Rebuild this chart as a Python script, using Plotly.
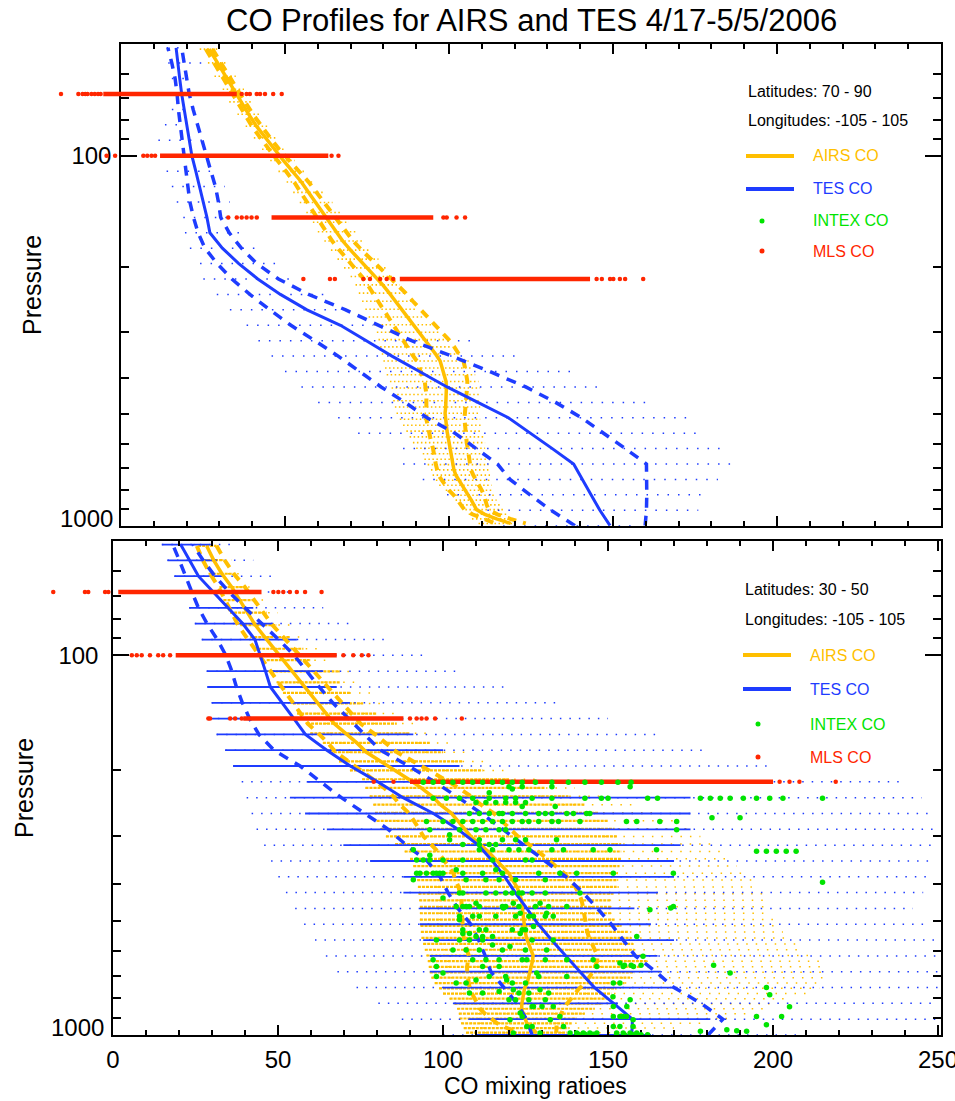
import math
import plotly.graph_objects as go

# ---------------- data ----------------
# AIRS support pressure levels inside 50-1000 hPa
airs_p = [51.53, 56.13, 60.99, 66.13, 71.54, 77.24, 83.23, 89.52, 96.11, 103.02,
          110.24, 117.78, 125.65, 133.85, 142.38, 151.27, 160.50, 170.08, 180.02, 190.32,
          200.99, 212.03, 223.44, 235.23, 247.41, 259.97, 272.92, 286.26, 300.00, 314.14,
          328.68, 343.62, 358.97, 374.72, 390.89, 407.47, 424.47, 441.88, 459.71, 477.96,
          496.63, 515.72, 535.23, 555.17, 575.52, 596.31, 617.51, 639.14, 661.19, 683.67,
          706.57, 729.89, 753.63, 777.79, 802.37, 827.37, 852.79, 878.62, 904.87, 931.52,
          958.59, 986.07]
# TES pressure levels (1000 hPa upward)
tes_p = [1000.0, 908.5, 825.4, 749.9, 681.3, 619.0, 562.3, 510.9, 464.2, 421.7,
         383.1, 348.1, 316.2, 287.3, 261.0, 237.1, 215.4, 195.7, 177.8, 161.6,
         146.8, 133.4, 121.2, 110.1, 100.0, 90.9, 82.5, 75.0, 68.1, 61.9, 56.2, 51.1]
mls_p = [68.1, 100.0, 146.8, 215.4]

# ---- top panel (lat 70-90) ----
airs_top_mean = [26.9, 29.4, 31.8, 34.3, 36.6, 38.9, 41.3, 44.0, 46.6, 49.5,
                 52.3, 55.0, 57.2, 59.4, 61.5, 63.5, 65.5, 67.6, 70.0, 72.6,
                 75.2, 77.6, 79.8, 81.8, 83.7, 85.6, 87.5, 89.3, 91.1, 92.8,
                 94.4, 95.9, 97.3, 97.9, 98.5, 99.1, 99.2, 99.2, 99.1, 99.0,
                 98.8, 98.9, 99.2, 99.4, 99.7, 100.0, 100.4, 100.6, 100.9, 101.2,
                 101.5, 102.1, 103.1, 104.1, 105.0, 106.1, 106.8, 107.6, 108.4, 110.9,
                 114.5, 118.8]
airs_top_sd = [1.0, 1.0, 1.1, 1.1, 1.2, 1.3, 1.4, 1.5, 1.6, 1.8,
               2.0, 2.2, 2.4, 2.6, 2.8, 3.0, 3.1, 3.2, 3.4, 3.6,
               3.9, 4.2, 4.6, 5.0, 5.3, 5.7, 6.1, 6.5, 6.9, 7.1,
               7.2, 7.2, 7.1, 7.0, 6.8, 6.5, 6.3, 6.1, 6.0, 5.9,
               5.8, 5.8, 5.7, 5.6, 5.5, 5.4, 5.3, 5.3, 5.2, 5.2,
               5.2, 5.3, 5.3, 5.2, 5.0, 4.6, 4.2, 3.9, 3.7, 3.8,
               4.2, 4.6]
airs_top_min = [24, 26.5, 28.5, 31, 33, 35.5, 38, 40.5, 43, 45.5,
                48, 50.5, 52.5, 54.5, 56.5, 58.5, 60, 62, 64, 66,
                68, 70, 71.5, 72.5, 73.5, 74.5, 75.5, 77, 78, 78.5,
                79, 79.5, 80, 80.5, 81, 82, 82.5, 83, 83, 83.5,
                84, 85, 86, 87, 88, 89, 90, 92, 92.5, 93.5,
                94.5, 95, 96, 97, 99, 101, 102, 104, 105, 106,
                107, 109]
airs_top_max = [30, 32.5, 35, 37.5, 40, 42.5, 45, 47.5, 50, 53,
                56, 59, 62, 64.5, 67, 69.5, 72, 74, 76, 78.5,
                81, 83, 85, 87, 88.5, 90, 92, 94.5, 97, 99,
                101, 103.5, 106, 107, 108, 109, 109.5, 109.5, 109.5, 109.5,
                109.5, 109.5, 110, 110, 110.5, 111, 111, 111.5, 111.5, 112,
                112, 112.5, 112.5, 113, 113.5, 114, 114.5, 115.5, 116.5, 118,
                119, 121]
tes_top_mean = [149.1, 146.0, 143.3, 140.7, 138.0, 131.5, 124.8, 118.1, 108.8, 99.4,
                91.0, 82.6, 74.8, 66.9, 56.7, 48.6, 41.7, 35.9, 30.9, 27.1,
                26.2, 25.1, 24.1, 22.8, 21.6, 20.8, 20.1, 19.3, 18.5, 17.9, 17.4, 16.8]
tes_top_lo = [138.4, 131.1, 124.7, 118.6, 114.8, 108.5, 101.8, 93.3, 86.6, 79.3,
              72.9, 66.2, 59.1, 51.8, 45.4, 39.3, 33.8, 29.3, 25.6, 23.5,
              22.1, 21.0, 20.4, 19.8, 19.4, 18.8, 18.0, 17.5, 17.1, 16.5, 15.5, 14.3]
tes_top_hi = [159.8, 160.2, 160.3, 160.3, 160.2, 153.8, 147.2, 140.4, 132.5, 123.4,
              112.4, 100.9, 88.6, 78.6, 68.5, 57.2, 48.0, 41.4, 36.7, 33.0,
              30.4, 29.7, 28.8, 27.4, 26.0, 24.6, 23.2, 22.0, 20.8, 20.0, 19.2, 18.5]
tes_top_min = [116.5, 108.5, 99.4, 92, 86, 86, 72.3, 66.2, 60.1, 55,
               50, 45.9, 41.9, 38.3, 33.2, 29.2, 25.1, 24.1, 21, 19.5,
               19, 17, 15.5, 13.9, 13, 11.4, 13.4, 15.5, 15.5, 15.5, 14.4, 13.9]
tes_top_max = [158, 176, 177.4, 182, 187.5, 182.6, 177.7, 173, 162, 147,
               137, 122.6, 108.8, 76.9, 69.8, 63.7, 52, 48.5, 41.9, 36.8,
               35.3, 33.2, 31.7, 29.2, 27, 25.1, 23.6, 22, 21, 21, 25.1, 20]
mls_top_lo = [-5.4, 11.9, 45.9, 85.0]
mls_top_hi = [35.3, 63.2, 95.2, 143.0]
mls_top_out_co = [-18.3, -13.0, -11.7, -10.9, -10.2, -9.0, -8.0, -7.0, -6.2,
                  36.8, 38.3, 39.3, 41.4, 42.4, 43.9, 46.4, 49.0,
                  -4.4, -1.8, 6.8, 8.0, 9.3, 10.4, 64.2, 66.3,
                  32.7, 35.3, 36.8, 38.3, 39.8, 41.4, 98.3, 99.3, 102.3, 104.9,
                  55.6, 63.7, 65.2, 73.9, 75.9, 79.0, 81.0, 83.0, 145.0, 146.6, 149.1, 150.1, 152.1, 153.7, 159.2]
mls_top_out_p = [68.1] * 17 + [100.0] * 8 + [146.8] * 10 + [215.4] * 15

# ---- bottom panel (lat 30-50) ----
airs_bot_mean = [28.4, 30.5, 33.0, 36.0, 38.4, 40.7, 43.1, 46.0, 48.9, 51.6,
                 54.4, 57.0, 59.6, 62.2, 64.6, 67.0, 70.6, 73.9, 76.8, 81.2,
                 85.6, 89.6, 93.4, 96.7, 99.2, 102.4, 104.5, 106.6, 108.4, 111.1,
                 113.7, 115.8, 117.8, 119.9, 121.1, 122.4, 123.2, 123.8, 124.0, 124.2,
                 124.3, 124.6, 124.9, 125.3, 125.9, 126.6, 127.3, 127.1, 126.7, 126.3,
                 125.9, 125.5, 124.7, 124.4, 124.1, 123.9, 123.8, 124.3, 124.8, 125.4,
                 126.9, 128.3]
airs_bot_sd = [3.0, 3.3, 3.6, 4.0, 4.4, 4.8, 5.2, 5.6, 6.0, 6.3,
               6.5, 6.8, 7.1, 7.4, 7.7, 8.0, 8.4, 8.8, 9.3, 9.8,
               10.3, 10.8, 11.3, 11.8, 12.3, 12.8, 13.3, 13.8, 14.3, 14.8,
               15.3, 15.8, 16.3, 16.8, 17.3, 17.7, 18.0, 18.2, 18.4, 18.5,
               18.6, 18.7, 18.8, 19.0, 19.2, 19.4, 19.5, 19.6, 19.4, 19.0,
               18.3, 17.5, 16.6, 15.6, 14.6, 13.6, 12.6, 11.6, 10.4, 9.0,
               7.5, 6.0]
airs_bot_min = [25.8, 27.3, 29.0, 32.3, 33.5, 35.5, 38.6, 41.6, 44.0, 46.6,
                48.0, 49.6, 51.5, 54.5, 55.8, 58.8, 59.8, 63.6, 65.7, 68.5,
                71.8, 75.5, 76.5, 77.8, 78.9, 79.4, 79.9, 81.2, 82.7, 85.5,
                88.4, 90.0, 91.0, 92.0, 92.2, 92.4, 92.6, 92.8, 93.0, 93.0,
                93.0, 93.2, 93.3, 93.5, 94.0, 94.5, 95.0, 95.4, 95.7, 96.0,
                96.5, 97.5, 98.8, 100.0, 102.0, 103.5, 104.3, 104.8, 105.0, 105.5,
                106.3, 107.0]
airs_bot_dense_max = [31.4, 33.3, 37.0, 39.5, 42.5, 46.6, 49.6, 53.6, 57.7, 60.0,
                      68.8, 68.8, 71.8, 75.8, 80.0, 86.0, 90.0, 96.0, 100.0, 106.0,
                      112.0, 120.0, 131.0, 138.0, 143.0, 147.0, 150.0, 152.0, 153.0, 154.0,
                      154.0, 154.0, 153.5, 153.0, 152.8, 152.6, 152.0, 151.0, 151.0, 151.0,
                      152.0, 154.0, 156.0, 157.0, 157.6, 158.0, 160.0, 161.7, 160.0, 158.0,
                      156.7, 155.0, 152.6, 151.0, 150.0, 148.5, 146.0, 143.0, 140.5, 139.0,
                      138.0, 137.5]
airs_bot_max = [33, 36, 40, 43, 46, 50, 54, 58, 62, 65.8,
                72, 74, 78, 82, 86, 91, 96, 102, 108, 114,
                120, 128, 140, 150, 158, 164, 170, 174, 178, 181,
                184, 187, 189, 191, 194, 196, 197, 198, 198.5, 199,
                200, 202, 203, 205, 207, 208, 211, 214, 215, 216,
                216, 215, 214, 210, 205, 201, 197, 192, 188, 180,
                170, 162.7]
tes_bot_mean = [157.2, 157.4, 151.7, 145.9, 141.5, 137.2, 132.9, 128.9, 125.3, 121.9,
                118.7, 115.0, 110.7, 104.5, 97.1, 87.9, 80.2, 71.9, 64.8, 58.3,
                54.8, 51.2, 47.7, 46.2, 44.7, 43.0, 39.3, 34.9, 30.3, 25.9, 23.2, 20.5]
tes_bot_lo = [127.0, 125.3, 122.4, 118.5, 114.5, 112.8, 110.8, 108.4, 104.5, 101.5,
              99.1, 95.2, 88.9, 83.4, 76.3, 69.2, 62.9, 56.7, 48.8, 44.2,
              41.4, 39.2, 37.4, 36.0, 34.2, 31.6, 28.5, 25.9, 23.9, 22.1, 20.1, 18.1]
tes_bot_hi = [180.3, 184.8, 178.2, 170.0, 164.5, 158.3, 154.6, 151.0, 146.8, 142.4,
              137.3, 130.8, 124.3, 117.9, 111.7, 104.7, 97.4, 89.6, 81.1, 76.2,
              71.4, 66.6, 62.5, 58.7, 54.9, 50.2, 44.9, 40.0, 35.2, 30.9, 27.3, 24.2]
tes_bot_min = [100, 87.5, 80.4, 73.8, 68, 64.5, 61.2, 57.9, 55.2, 52.4,
               50.1, 47.9, 45.8, 43.5, 42, 40.5, 39, 36.4, 34, 31.4,
               28.9, 29.9, 28.6, 28.4, 27, 26.9, 24.8, 23.1, 21, 18.6, 16.5, 14.8]
tes_bot_dense_lo = [110, 108, 103, 100, 96, 96, 94, 93, 93, 88,
                    88, 77.9, 69.8, 64.8, 58.2, 53.6, 58.7, 36.4, 34, 31.4,
                    28.9, 29.9, 28.6, 28.4, 27, 26.9, 24.8, 23.1, 21, 18.6, 16.5, 14.8]
tes_bot_dense_hi = [163, 181, 153, 171, 166, 165, 170, 163, 158, 165,
                    170, 170, 172, 175, 175, 175, 150, 105, 100, 91,
                    88, 71.8, 67.8, 63.7, 60, 55.7, 48.6, 42.5, 36, 33.4, 31.4, 29.4]
tes_bot_max = [208, 250, 250, 250, 250, 250, 250, 245.5, 242.4, 245.5,
               248, 249, 249, 249, 248, 245, 240, 200, 180, 165,
               150, 135, 118.3, 105, 94, 83.9, 73.3, 63.7, 57, 48.6, 42.5, 37.5]
mls_bot_lo = [1.6, 19.0, 39.5, 90.0]
mls_bot_hi = [45.0, 67.8, 88.0, 200.0]
mls_bot_out_co = [-18.1, -8.5, -7.5, -2.4, -1.4, 48.6, 50.1, 51.6, 53.6, 55.7, 58.2, 63.2,
                  5.7, 7.2, 8.7, 11.2, 13.7, 15.2, 17.3, 69.8, 72.8, 75.4, 77.4,
                  28.9, 29.4, 35.5, 37.0, 39.0, 90.0, 92.0, 93.5, 95.0, 97.6, 105.7,
                  79.0, 85.0, 202.0, 205.0, 208.0, 219.0]
mls_bot_out_p = [68.1] * 12 + [100.0] * 11 + [146.8] * 11 + [215.4] * 6

# INTEX in-situ CO (bottom panel only), grouped by pressure level
intex_rows_p = [216, 222, 225, 230, 238, 244, 250, 261, 268, 274, 288, 297, 306, 315, 325, 328, 336, 346,
                367, 375, 390, 396, 423, 436, 450, 459, 463, 468, 478, 487, 497, 518, 528, 540, 550,
                562, 579, 585, 597, 620, 634, 646, 655, 660, 687, 701, 716, 730, 750, 760, 768, 775,
                783, 793, 808, 841, 843, 875, 894, 912, 940, 950, 968, 975, 978, 988, 995, 998]
intex_rows_co = [
    [94, 97, 100, 103, 106, 109, 112, 115, 118, 121, 124, 128, 133, 138, 143, 148, 153, 157],
    [120, 124, 133, 156.7], [121], [114],
    [97, 101, 105, 109, 114, 119, 122, 127, 133, 143, 148, 150, 162, 165, 178, 181, 184, 187, 191, 195, 199, 203, 215],
    [110, 113, 116, 119, 122, 125], [124, 134],
    [108, 111, 114, 117, 118, 121, 125, 129, 131, 133, 137.5, 139.5, 143.5, 144.5],
    [181.5, 190],
    [95, 100, 103, 106, 109, 112, 115, 118, 121, 124, 126, 129, 133, 135, 141.5, 155.6, 158.7, 165.7, 170.8],
    [96, 105, 110, 113, 117, 119, 170.8], [102], [102, 111, 118, 122, 125, 134.4], [106, 111, 114, 116],
    [91, 111, 115, 120, 123, 126, 133, 136.5, 145.5, 150.6, 164.7],
    [195, 198, 201, 204, 207], [96], [92, 94, 96, 100, 106, 115, 125, 127],
    [104, 116],
    [92, 93, 95, 97, 98, 99, 100, 106, 112, 118, 129, 135.4, 140.5, 151.6, 169.8],
    [91, 107, 113, 117, 122, 131], [215],
    [105, 106, 113, 116, 119, 121, 123, 124, 127, 131, 141.5], [100], [110, 121.3, 129.4],
    [104, 106, 107, 108, 111, 118, 119, 123, 128, 132, 137.5, 169.8], [118.3, 169], [162.7],
    [123.4, 131.4], [105, 109, 111, 116, 122, 126, 127.4, 131, 133.4], [105], [127.4],
    [106, 111, 113, 121, 124, 125], [106, 108, 123.4], [110, 112, 115, 158.7],
    [98, 105, 108, 112, 127, 133.4], [115], [120.3], [103, 107, 111, 118, 125, 131.4], [160.6],
    [97, 109, 113, 117, 124, 125.4, 131, 137.5, 145.5], [153.6], [155, 157, 160, 182],
    [98, 112, 117, 146.6, 154.6, 157.7], [100, 128.4, 187], [98, 114, 119, 129, 137.5], [110, 119.3],
    [104, 107, 121, 125, 151.6, 153.6], [198], [121.3, 129.4], [117], [108, 112, 123, 126, 132],
    [199], [151.5], [120, 122, 126, 131, 156.7], [127, 127.4, 130, 133.4, 151.6, 155.7], [205],
    [123.4], [124, 135.4, 151.6, 153.6, 154.5, 155.6, 195, 202.6], [120.3, 132.5, 157.6], [198],
    [125.4, 127, 136.5, 151.6, 153.6, 157.6], [186], [189], [178, 192],
    [121.3, 129.4, 138.5, 140.5, 142.5, 144.5, 146.6, 152.6, 154.6, 156.7, 158.7],
    [141, 143, 145.5], [152.6, 155, 157.6, 160, 162]]

x_ticks = [0, 50, 100, 150, 200, 250]
y_ticks = [100, 1000]
y_minor = [60, 70, 80, 90, 200, 300, 400, 500, 600, 700, 800, 900]

# ---------------- styling ----------------
ORANGE = "#FFBF00"
BLUE = "#1E3CFF"
RED = "#FF2600"
GREEN = "#00E400"
FONT = "Liberation Sans, Arial, Helvetica, sans-serif"
W, H = 955, 1101
TOP_L, BOT_L, RIGHT = 121, 113, 941
TOP_Y0, TOP_Y1 = 44.3, 525.7
BOT_Y0, BOT_Y1 = 541, 1035
TOP_XMAX, BOT_XMAX = 250, 250.9


def px(x):
    return x / W


def py(y):
    return 1 - y / H


def segs(lo, hi, p):
    xs, ys = [], []
    for a, b, c in zip(lo, hi, p):
        xs += [a, b, None]
        ys += [c, c, None]
    return xs, ys


fig = go.Figure()


def line(x, y, color, width, dash, xa, ya):
    fig.add_trace(go.Scatter(x=x, y=y, mode="lines", xaxis=xa, yaxis=ya,
                             line=dict(color=color, width=width, dash=dash),
                             showlegend=False, hoverinfo="skip"))


def dots(x, y, color, size, xa, ya):
    fig.add_trace(go.Scatter(x=x, y=y, mode="markers", xaxis=xa, yaxis=ya,
                             marker=dict(color=color, size=size, line=dict(width=0)),
                             showlegend=False, hoverinfo="skip"))


# ---- top panel ----
xs, ys = segs(airs_top_min, airs_top_max, airs_p)
line(xs, ys, ORANGE, 1.6, "1.5px,2.5px", "x", "y")
xs, ys = segs(tes_top_min, tes_top_max, tes_p)
line(xs, ys, BLUE, 1.5, "1.5px,9px", "x", "y")
line(airs_top_mean, airs_p, ORANGE, 3.5, "solid", "x", "y")
line([m - s for m, s in zip(airs_top_mean, airs_top_sd)], airs_p, ORANGE, 4, "9px,7px", "x", "y")
line([m + s for m, s in zip(airs_top_mean, airs_top_sd)], airs_p, ORANGE, 4, "9px,7px", "x", "y")
line(tes_top_mean, tes_p, BLUE, 3, "solid", "x", "y")
line(tes_top_lo, tes_p, BLUE, 3.5, "10px,8px", "x", "y")
line(tes_top_hi, tes_p, BLUE, 3.5, "10px,8px", "x", "y")

# ---- bottom panel ----
xs, ys = segs(airs_bot_min, airs_bot_max, airs_p)
line(xs, ys, ORANGE, 1.5, "1.5px,8px", "x2", "y2")
xs, ys = segs(airs_bot_min, airs_bot_dense_max, airs_p)
line(xs, ys, ORANGE, 2.2, "3px,1px", "x2", "y2")
xs, ys = segs(tes_bot_min, tes_bot_max, tes_p)
line(xs, ys, BLUE, 1.5, "1.5px,8px", "x2", "y2")
xs, ys = segs(tes_bot_dense_lo, tes_bot_dense_hi, tes_p)
line(xs, ys, BLUE, 1.8, "solid", "x2", "y2")
line(airs_bot_mean, airs_p, ORANGE, 3.5, "solid", "x2", "y2")
line([m - s for m, s in zip(airs_bot_mean, airs_bot_sd)], airs_p, ORANGE, 4, "9px,7px", "x2", "y2")
line([m + s for m, s in zip(airs_bot_mean, airs_bot_sd)], airs_p, ORANGE, 4, "9px,7px", "x2", "y2")
line(tes_bot_mean, tes_p, BLUE, 3, "solid", "x2", "y2")
line(tes_bot_lo, tes_p, BLUE, 3.5, "10px,8px", "x2", "y2")
line(tes_bot_hi, tes_p, BLUE, 3.5, "10px,8px", "x2", "y2")

# ---- MLS / INTEX on wide overlay subplots (same scale, they spill left of the frame) ----
xs, ys = segs(mls_top_lo, mls_top_hi, mls_p)
line(xs, ys, RED, 4.5, "solid", "x3", "y3")
dots(mls_top_out_co, mls_top_out_p, RED, 4.5, "x3", "y3")
xs, ys = segs(mls_bot_lo, mls_bot_hi, mls_p)
line(xs, ys, RED, 4.5, "solid", "x4", "y4")
dots(mls_bot_out_co, mls_bot_out_p, RED, 4.5, "x4", "y4")
intex_co, intex_p = [], []
for p, row in zip(intex_rows_p, intex_rows_co):
    intex_co += row
    intex_p += [p] * len(row)
dots(intex_co, intex_p, GREEN, 5.5, "x4", "y4")

# ---------------- axes ----------------
axis_common = dict(showline=True, linecolor="black", linewidth=1.5, mirror="ticks",
                   showgrid=False, zeroline=False, ticks="inside", tickcolor="black",
                   tickwidth=1.5, automargin=False, ticklabeloverflow="allow",
                   tickfont=dict(family=FONT, size=24, color="black"))
xminor = dict(ticks="inside", dtick=10, tick0=0, ticklen=5, tickcolor="black", tickwidth=1.5)
yminor = dict(ticks="inside", tickmode="array", tickvals=y_minor, ticklen=8.5,
              tickcolor="black", tickwidth=1.5)
yrange = [3, math.log10(50)]
hidden = dict(visible=False, showgrid=False, zeroline=False, automargin=False)
top_wide_lo = -TOP_XMAX * TOP_L / (RIGHT - TOP_L)
bot_wide_lo = -BOT_XMAX * BOT_L / (RIGHT - BOT_L)
# "1000" is drawn as a separate label (it sits a little above its tick in the reference)
y_ticktext = ["100", ""]

fig.update_layout(
    width=W, height=H, margin=dict(l=0, r=0, t=0, b=0, autoexpand=False),
    paper_bgcolor="white", plot_bgcolor="rgba(0,0,0,0)", showlegend=False,
    xaxis=dict(axis_common, domain=[px(TOP_L), px(RIGHT)], range=[0, TOP_XMAX], anchor="y",
               tickvals=x_ticks, ticklen=10, showticklabels=False, minor=xminor),
    yaxis=dict(axis_common, domain=[py(TOP_Y1), py(TOP_Y0)], type="log", range=yrange, anchor="x",
               tickvals=y_ticks, ticktext=y_ticktext, ticklen=16,
               ticklabelstandoff=3, minor=yminor),
    xaxis2=dict(axis_common, domain=[px(BOT_L), px(RIGHT)], range=[0, BOT_XMAX], anchor="y2",
                tickvals=x_ticks, ticktext=[str(v) for v in x_ticks], ticklen=10,
                ticklabelstandoff=2, minor=xminor),
    yaxis2=dict(axis_common, domain=[py(BOT_Y1), py(BOT_Y0)], type="log", range=yrange, anchor="x2",
                tickvals=y_ticks, ticktext=y_ticktext, ticklen=16,
                ticklabelstandoff=8, minor=yminor),
    xaxis3=dict(hidden, domain=[0, px(RIGHT)], range=[top_wide_lo, TOP_XMAX], anchor="y3"),
    yaxis3=dict(hidden, domain=[py(TOP_Y1), py(TOP_Y0)], type="log", range=yrange, anchor="x3"),
    xaxis4=dict(hidden, domain=[0, px(RIGHT)], range=[bot_wide_lo, BOT_XMAX], anchor="y4"),
    yaxis4=dict(hidden, domain=[py(BOT_Y1), py(BOT_Y0)], type="log", range=yrange, anchor="x4"),
)

# ---------------- texts ----------------
ann = []


def text(x, y, s, size, color="black", angle=0, xanchor="left", yanchor="middle"):
    ann.append(dict(x=px(x), y=py(y), xref="paper", yref="paper", text=s, showarrow=False,
                    textangle=angle, xanchor=xanchor, yanchor=yanchor,
                    font=dict(family=FONT, size=size, color=color)))


text(531, 40, "CO Profiles for AIRS and TES 4/17-5/5/2006", 31, xanchor="center", yanchor="bottom")
text(32, 285, "Pressure", 25, angle=-90, xanchor="center")
text(24, 788, "Pressure", 25, angle=-90, xanchor="center")
text(535, 1101, "CO mixing ratioes", 23, xanchor="center", yanchor="bottom")
text(115, 518, str(y_ticks[1]), 24, xanchor="right")
text(106, 1027, str(y_ticks[1]), 24, xanchor="right")

shapes = []
for (lx, ly, lines_y, dot_x, lab_x, lat) in [
        (746, 91, [156, 189, 221, 251], 762, 811, "Latitudes: 70 - 90"),
        (743, 589, [655, 689, 724, 757], 758, 808, "Latitudes: 30 - 50")]:
    text(lx, ly, lat, 16)
    text(lx, ly + 30, "Longitudes: -105 - 105", 16)
    names = ["AIRS CO", "TES CO", "INTEX CO", "MLS CO"]
    cols = [ORANGE, BLUE, GREEN, RED]
    for i, (nm, c, yy) in enumerate(zip(names, cols, lines_y)):
        text(lab_x, yy, nm, 16, color=c)
        if i < 2:
            shapes.append(dict(type="line", xref="paper", yref="paper", x0=px(lx), x1=px(lx + 48),
                               y0=py(yy), y1=py(yy), line=dict(color=c, width=4)))
        else:
            shapes.append(dict(type="circle", xref="paper", yref="paper", x0=px(dot_x - 2.5),
                               x1=px(dot_x + 2.5), y0=py(yy - 2.5), y1=py(yy + 2.5),
                               fillcolor=c, line=dict(width=0)))

fig.update_layout(annotations=ann, shapes=shapes)
fig.write_html("out.html", config={"displayModeBar": False},
               post_script="document.body.style.margin='0';")
